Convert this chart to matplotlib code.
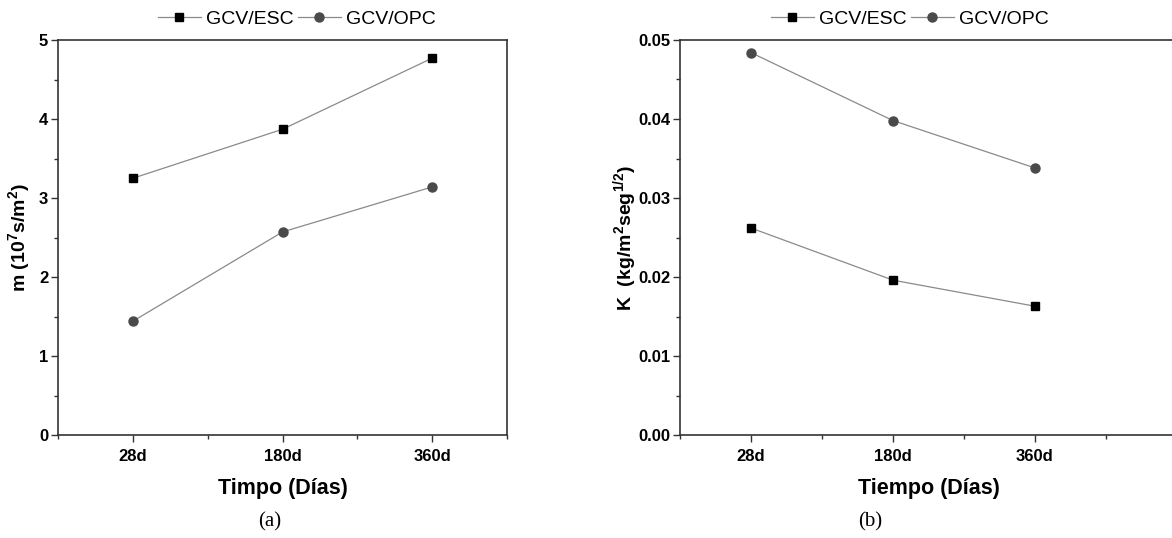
import matplotlib
matplotlib.use("Agg")
import matplotlib.pyplot as plt
from matplotlib.ticker import MultipleLocator
from matplotlib.lines import Line2D

dias = ["28d", "180d", "360d"]
m_esc = [3.25, 3.87, 4.77]
m_opc = [1.44, 2.57, 3.14]
k_esc = [0.0262, 0.0196, 0.0163]
k_opc = [0.0484, 0.0398, 0.0338]
series = ["GCV/ESC", "GCV/OPC"]

plt.rcParams["font.family"] = ["Liberation Sans", "DejaVu Sans"]
plt.rcParams["mathtext.fontset"] = "custom"
plt.rcParams["mathtext.bf"] = "Liberation Sans:bold"
plt.rcParams["mathtext.rm"] = "Liberation Sans"

W, H = 1172, 538
fig = plt.figure(figsize=(W / 100, H / 100), dpi=100)

ax1 = fig.add_axes([58 / W, 103 / H, 449 / W, 395 / H])
ax2 = fig.add_axes([680 / W, 103 / H, 497 / W, 395 / H])

x = [1, 2, 3]
line_kw = dict(color="#8a8a8a", lw=0.9)
sq_kw = dict(marker="s", ms=5.5, mfc="black", mec="black")
ci_kw = dict(marker="o", ms=6.5, mfc="#4a4a4a", mec="#4a4a4a")


def style(ax, xmax, ymax, major, minor, fmt):
    ax.set_xlim(0.5, xmax)
    ax.set_ylim(0, ymax)
    ax.set_xticks(x)
    ax.set_xticklabels(dias)
    ax.xaxis.set_minor_locator(MultipleLocator(0.5))
    ax.yaxis.set_major_locator(MultipleLocator(major))
    ax.yaxis.set_minor_locator(MultipleLocator(minor))
    ax.yaxis.set_major_formatter(fmt)
    ax.tick_params(which="major", direction="out", length=5, width=1.0,
                   labelsize=12, color="#333333")
    ax.tick_params(which="minor", direction="out", length=3, width=1.0,
                   color="#333333")
    ax.tick_params(axis="y", pad=2)
    ax.tick_params(axis="x", pad=5)
    for lab in ax.get_xticklabels() + ax.get_yticklabels():
        lab.set_fontweight("bold")
    for s in ax.spines.values():
        s.set_linewidth(1.2)
        s.set_color("#333333")


ax1.plot(x, m_esc, **line_kw, **sq_kw)
ax1.plot(x, m_opc, **line_kw, **ci_kw)
style(ax1, 3.5, 5, 1, 0.5, "{x:.0f}")
ax1.set_xlabel("Timpo (Días)", fontsize=15.5, fontweight="bold", labelpad=10)
ax1.set_ylabel(r"m (10$^{\mathbf{7}}$s/m$^{\mathbf{2}}$)", fontsize=14,
               fontweight="bold")
ax1.yaxis.set_label_coords(-0.056, 0.5)

ax2.plot(x, k_esc, **line_kw, **sq_kw)
ax2.plot(x, k_opc, **line_kw, **ci_kw)
style(ax2, 4.0, 0.05, 0.01, 0.005, "{x:.2f}")
ax2.spines["right"].set_visible(False)
ax2.set_xlabel("Tiempo (Días)", fontsize=15.5, fontweight="bold", labelpad=10)
ax2.set_ylabel(r"K  (kg/m$^{\mathbf{2}}$seg$^{\mathbf{1/2}}$)", fontsize=14,
               fontweight="bold")
ax2.yaxis.set_label_coords(-0.08, 0.5)

handles = [Line2D([], [], **line_kw, **sq_kw), Line2D([], [], **line_kw, **ci_kw)]
for cx in (297 / W, 910 / W):
    fig.legend(handles, series, loc="center", bbox_to_anchor=(cx, 1 - 19 / H),
               ncol=2, frameon=False, fontsize=14, handlelength=2.2,
               columnspacing=0.2, handletextpad=0.3, borderpad=0)

fig.text(270 / W, 1 - 522 / H, "(a)", ha="center", va="center",
         fontsize=15, family="Liberation Serif")
fig.text(870 / W, 1 - 522 / H, "(b)", ha="center", va="center",
         fontsize=15, family="Liberation Serif")

fig.savefig("out.png", dpi=100)
